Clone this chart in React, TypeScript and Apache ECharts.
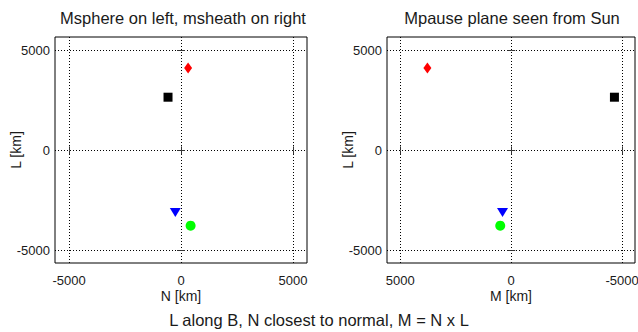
import React, { useEffect, useRef } from "react";
import * as echarts from "echarts";

// Marker order: square (black), diamond (red), down-triangle (blue), circle (green)
const markerSymbols = ["rect", "diamond", "triangle", "circle"];
const markerColors = ["#000000", "#ff0000", "#0000ff", "#00ff00"];
const nValues = [-580, 317, -254, 429];
const mValues = [-4653, 3779, 392, 495];
const lValues = [2655, 4117, -3100, -3758];

const tickValues = [-5000, 0, 5000];
const leftTitle = "Msphere on left, msheath on right";
const rightTitle = "Mpause plane seen from Sun";
const superTitle = "L along B, N closest to normal, M = N x L";
const nName = "N [km]";
const mName = "M [km]";
const lName = "L [km]";

const FONT = "Liberation Sans, Arial, sans-serif";
const TXT = "#1a1a1a";

export default function App() {
  const ref = useRef<HTMLDivElement>(null);
  useEffect(() => {
    if (!ref.current) return;
    const chart = echarts.init(ref.current, undefined, { renderer: "svg" });

    const symSize = (s: string) =>
      s === "rect" ? 9 : s === "diamond" ? [8, 11] : s === "triangle" ? [11, 9] : 10;

    const makeSeries = (xs: number[], axisIndex: number) =>
      xs.map((x, i) => ({
        type: "scatter",
        xAxisIndex: axisIndex,
        yAxisIndex: axisIndex,
        symbol: markerSymbols[i],
        symbolRotate: markerSymbols[i] === "triangle" ? 180 : 0,
        symbolSize: symSize(markerSymbols[i]),
        itemStyle: { color: markerColors[i], opacity: 1 },
        data: [[x, lValues[i]]],
        silent: true,
      }));

    const fmt = (v: number) => String(v);

    const mainX = (gridIndex: number, name: string, min: number, max: number, inverse: boolean) => ({
      type: "value",
      gridIndex,
      position: "bottom",
      min,
      max,
      inverse,
      name,
      nameLocation: "middle",
      nameGap: 26,
      nameMoveOverlap: false,
      nameTextStyle: { fontSize: 14, color: TXT, fontFamily: FONT },
      axisLine: { show: false },
      axisTick: { show: true, inside: true, length: 4, customValues: tickValues, lineStyle: { color: "#333" } },
      axisLabel: { show: true, customValues: tickValues, formatter: fmt, fontSize: 13, color: TXT, fontFamily: FONT, margin: 11, hideOverlap: false },
      splitLine: { show: true, lineStyle: { color: "#000", width: 1, type: [1, 2] } },
    });
    const topX = (gridIndex: number, min: number, max: number, inverse: boolean) => ({
      type: "value",
      gridIndex,
      position: "top",
      min,
      max,
      inverse,
      axisLine: { show: false },
      axisTick: { show: true, inside: true, length: 4, customValues: tickValues, lineStyle: { color: "#333" } },
      axisLabel: { show: false, customValues: tickValues },
      splitLine: { show: false },
    });
    const mainY = (gridIndex: number) => ({
      type: "value",
      gridIndex,
      position: "left",
      min: -5620,
      max: 5660,
      name: lName,
      nameLocation: "middle",
      nameGap: 32,
      nameMoveOverlap: false,
      nameTextStyle: { fontSize: 14, color: TXT, fontFamily: FONT },
      axisLine: { show: false },
      axisTick: { show: true, inside: true, length: 4, customValues: tickValues, lineStyle: { color: "#333" } },
      axisLabel: { show: true, customValues: tickValues, formatter: fmt, fontSize: 13, color: TXT, fontFamily: FONT, margin: 5 },
      splitLine: { show: true, lineStyle: { color: "#000", width: 1, type: [1, 2] } },
    });
    const rightY = (gridIndex: number) => ({
      type: "value",
      gridIndex,
      position: "right",
      min: -5620,
      max: 5660,
      axisLine: { show: false },
      axisTick: { show: true, inside: true, length: 4, customValues: tickValues, lineStyle: { color: "#333" } },
      axisLabel: { show: false, customValues: tickValues },
      splitLine: { show: false },
    });

    const titleText = (text: string, x: number, y: number) => ({
      type: "text",
      x,
      y,
      style: {
        text,
        fontSize: 16.5,
        fontFamily: FONT,
        fill: TXT,
        align: "center",
        verticalAlign: "middle",
      },
      silent: true,
    });

    const gridBase = {
      top: 37,
      height: 226,
      show: true,
      borderColor: "#000",
      borderWidth: 1,
      backgroundColor: "#fff",
      containLabel: false,
      outerBoundsMode: "none",
    };

    const option = {
      animation: false,
      backgroundColor: "#ffffff",
      graphic: [
        titleText(leftTitle, 183, 18),
        titleText(rightTitle, 512, 18),
        titleText(superTitle, 319, 320),
      ],
      grid: [
        { ...gridBase, left: 55, width: 252 },
        { ...gridBase, left: 387, width: 248 },
      ],
      xAxis: [
        mainX(0, nName, -5630, 5630, false),
        mainX(1, mName, -5580, 5600, true),
        topX(0, -5630, 5630, false),
        topX(1, -5580, 5600, true),
      ],
      yAxis: [mainY(0), mainY(1), rightY(0), rightY(1)],
      series: [...makeSeries(nValues, 0), ...makeSeries(mValues, 1)],
    };
    chart.setOption(option as any);
    return () => chart.dispose();
  }, []);
  return (
    <div
      ref={ref}
      style={{ position: "fixed", left: 0, top: 0, width: 638, height: 332, background: "#fff" }}
    />
  );
}
